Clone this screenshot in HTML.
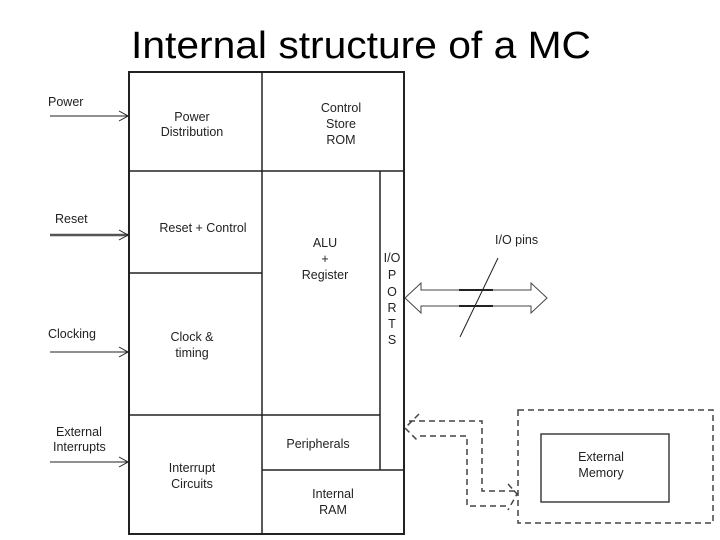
<!DOCTYPE html>
<html><head><style>
body{margin:0;background:#fff;}
svg{display:block;}
text{font-family:"Liberation Sans",Arial,sans-serif;fill:#222;}
</style></head><body>
<svg width="720" height="540" viewBox="0 0 720 540">
<text x="361" y="58" font-size="38" text-anchor="middle" textLength="460" lengthAdjust="spacingAndGlyphs" style="fill:#000">Internal structure of a MC</text>
<g stroke="#222" fill="none">
<rect x="129" y="72" width="275" height="462" stroke-width="2"/>
<line x1="262" y1="72" x2="262" y2="534" stroke-width="1.5"/>
<line x1="129" y1="171" x2="404" y2="171" stroke-width="1.5"/>
<line x1="129" y1="273" x2="262" y2="273" stroke-width="1.5"/>
<line x1="129" y1="415" x2="380" y2="415" stroke-width="1.5"/>
<line x1="262" y1="470" x2="404" y2="470" stroke-width="1.5"/>
<line x1="380" y1="171" x2="380" y2="470" stroke-width="1.5"/>
<!-- input arrows -->
<line x1="50" y1="116" x2="128" y2="116"/><polyline points="119,111 128,116 119,121"/>
<line x1="50" y1="235" x2="128" y2="235" stroke-width="2.5" stroke="#555"/><polyline points="119,230 128,235 119,240"/>
<line x1="50" y1="352" x2="128" y2="352"/><polyline points="119,347 128,352 119,357"/>
<line x1="50" y1="462" x2="128" y2="462"/><polyline points="119,457 128,462 119,467"/>
<!-- double arrow -->
<polygon points="405,298 421,283 421,290 531,290 531,283 547,298 531,313 531,306 421,306 421,313" stroke="#444"/>
<line x1="459" y1="290" x2="493" y2="290" stroke-width="2"/>
<line x1="459" y1="306" x2="493" y2="306" stroke-width="2"/>
<line x1="498" y1="258" x2="460" y2="337"/>
<!-- dashed -->
<g stroke="#444" stroke-dasharray="6,4" stroke-width="1.5">
<rect x="518" y="410" width="195" height="113"/>
<polyline points="409,421 482,421 482,491 517,491"/>
<polyline points="420,436 467,436 467,506 510,506"/>
<polyline points="419,414 405,428 419,442"/>
<polyline points="508,484 517,494 508,510"/>
</g>
<rect x="541" y="434" width="128" height="68" stroke-width="1.3"/>
</g>
<g font-size="12.5" text-anchor="middle">
<text x="192" y="121">Power</text><text x="192" y="136">Distribution</text>
<text x="341" y="112">Control</text><text x="341" y="128">Store</text><text x="341" y="144">ROM</text>
<text x="203" y="232">Reset + Control</text>
<text x="325" y="247">ALU</text><text x="325" y="263">+</text><text x="325" y="279">Register</text>
<text x="192" y="341">Clock &amp;</text><text x="192" y="357">timing</text>
<text x="318" y="448">Peripherals</text>
<text x="192" y="472">Interrupt</text><text x="192" y="488">Circuits</text>
<text x="333" y="498">Internal</text><text x="333" y="514">RAM</text>
<text x="601" y="461">External</text><text x="601" y="477">Memory</text>
<text x="392" y="262">I/O</text><text x="392" y="279">P</text><text x="392" y="296">O</text><text x="392" y="312">R</text><text x="392" y="328">T</text><text x="392" y="344">S</text>
</g>
<g font-size="12.5">
<text x="48" y="106">Power</text>
<text x="55" y="223">Reset</text>
<text x="48" y="338">Clocking</text>
<text x="56" y="436">External</text><text x="53" y="451">Interrupts</text>
<text x="495" y="244">I/O pins</text>
</g>
</svg>
</body></html>
